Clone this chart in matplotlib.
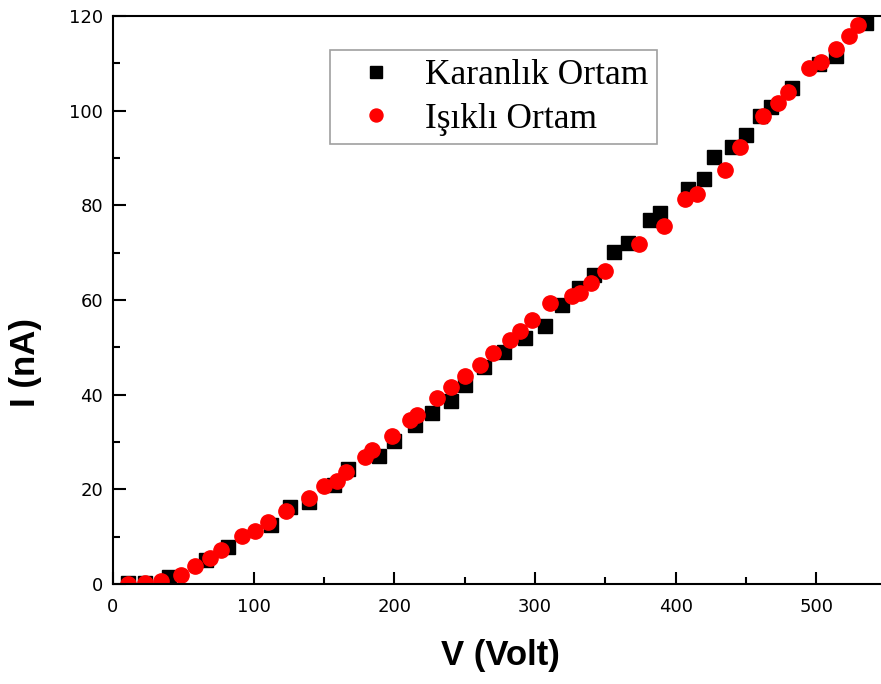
import matplotlib
matplotlib.use("Agg")
import matplotlib.pyplot as plt
from matplotlib.ticker import MultipleLocator

# Current-voltage measurements
dark_v = [11, 23, 40, 66, 82, 112, 126, 139, 157, 167, 189, 200, 215, 227, 240,
          250, 264, 278, 293, 307, 319, 331, 342, 356, 366, 382, 389, 409, 420,
          427, 440, 450, 460, 468, 483, 502, 514, 535]
dark_i = [0.3, 0.3, 1.5, 5.1, 7.8, 12.5, 16.2, 17.4, 21.0, 24.3, 27.1, 30.3,
          33.5, 36.1, 38.6, 42.1, 45.9, 49.0, 52.0, 54.6, 59.0, 62.6, 65.2, 70.2,
          72.0, 77.0, 78.3, 83.5, 85.6, 90.2, 92.4, 94.8, 98.9, 100.7, 104.7,
          109.8, 111.6, 118.5]

light_v = [11, 23, 34, 48, 58, 69, 77, 92, 101, 110, 123, 139, 150, 159, 166,
           179, 184, 198, 211, 216, 230, 240, 250, 261, 270, 282, 289, 298, 311,
           326, 332, 340, 350, 374, 392, 407, 415, 435, 446, 462, 473, 480, 495,
           503, 514, 523, 530]
light_i = [0.0, 0.3, 0.7, 1.9, 3.7, 5.4, 7.2, 10.2, 11.1, 13.2, 15.5, 18.1,
           20.7, 21.8, 23.6, 26.9, 28.4, 31.2, 34.6, 35.6, 39.3, 41.6, 44.0,
           46.3, 48.9, 51.6, 53.5, 55.7, 59.3, 60.8, 61.4, 63.6, 66.1, 71.9,
           75.6, 81.3, 82.3, 87.5, 92.4, 98.8, 101.6, 104.0, 109.1, 110.2,
           113.0, 115.7, 118.0]

series_labels = ["Karanlık Ortam", "Işıklı Ortam"]
x_label = "V (Volt)"
y_label = "I (nA)"

W, H = 881, 684
fig = plt.figure(figsize=(W / 100, H / 100), dpi=100)
ax = fig.add_axes([113 / W, 1 - 584 / H, (W - 113) / W, (584 - 16) / H])

ax.plot(dark_v, dark_i, linestyle="none", marker="s", markersize=10,
        color="black", label=series_labels[0])
ax.plot(light_v, light_i, linestyle="none", marker="o", markersize=11,
        color="#ff0000", markeredgecolor="#ff0000", label=series_labels[1])

ax.set_xlim(0, 546)
ax.set_ylim(0, 120)
ax.xaxis.set_major_locator(MultipleLocator(100))
ax.xaxis.set_minor_locator(MultipleLocator(50))
ax.yaxis.set_major_locator(MultipleLocator(20))
ax.yaxis.set_minor_locator(MultipleLocator(10))

for side in ("left", "bottom", "top"):
    ax.spines[side].set_linewidth(1.5)
ax.spines["right"].set_visible(False)

ax.tick_params(which="major", direction="in", length=9, width=1.5,
               labelsize=13)
ax.tick_params(which="minor", direction="in", length=5, width=1.5)
ax.tick_params(axis="x", which="major", pad=10)
ax.tick_params(axis="y", which="major", pad=7)
ax.tick_params(top=False, right=False, which="both")
for lbl in ax.get_xticklabels() + ax.get_yticklabels():
    lbl.set_family("DejaVu Sans")

ax.set_xlabel(x_label, fontsize=25, fontweight="bold", family="Liberation Sans")
ax.set_ylabel(y_label, fontsize=25, fontweight="bold", family="Liberation Sans")
ax.xaxis.set_label_coords(0.504, -0.097)
ax.yaxis.set_label_coords(-0.092, 0.39)

leg = ax.legend(loc="upper left", bbox_to_anchor=(0.2826, 0.940),
                borderaxespad=0, frameon=True, fancybox=False,
                prop={"family": "Liberation Serif", "size": 25.5},
                handletextpad=0.32, labelspacing=0.3, borderpad=0.25,
                markerscale=0.85, handlelength=2.12)
leg.get_frame().set_edgecolor("#888888")
leg.get_frame().set_linewidth(1.2)

fig.savefig("out.png", dpi=100)
